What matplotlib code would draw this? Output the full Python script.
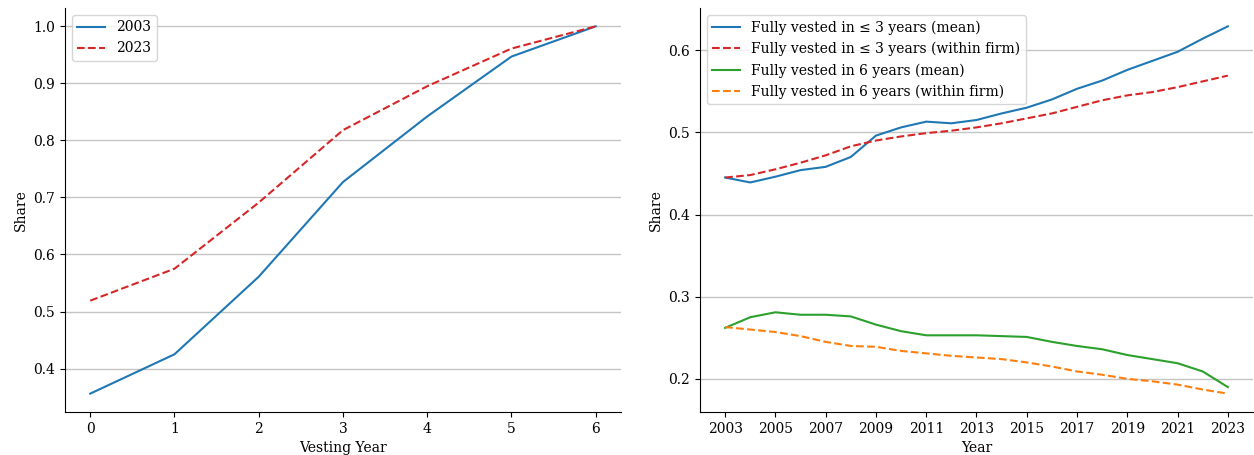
import numpy as np
import matplotlib
matplotlib.use("Agg")
import matplotlib.pyplot as plt

plt.rcParams['font.family'] = ['DejaVu Serif']
plt.rcParams['font.size'] = 10

# left panel: cumulative vesting share by vesting year
vest_year = [0, 1, 2, 3, 4, 5, 6]
share_2003 = [0.356, 0.425, 0.561, 0.727, 0.842, 0.947, 1.0]
share_2023 = [0.519, 0.575, 0.691, 0.818, 0.895, 0.961, 1.0]

# right panel: shares over time
years = list(range(2003, 2024))
le3_mean = [0.445, 0.439, 0.446, 0.454, 0.458, 0.470, 0.496, 0.506, 0.513, 0.511,
            0.515, 0.523, 0.530, 0.540, 0.553, 0.563, 0.576, 0.587, 0.598, 0.614, 0.629]
le3_firm = [0.445, 0.448, 0.455, 0.463, 0.472, 0.483, 0.490, 0.495, 0.499, 0.502,
            0.506, 0.511, 0.517, 0.523, 0.531, 0.539, 0.545, 0.549, 0.555, 0.562, 0.569]
six_mean = [0.262, 0.275, 0.281, 0.278, 0.278, 0.276, 0.266, 0.258, 0.253, 0.253,
            0.253, 0.252, 0.251, 0.245, 0.240, 0.236, 0.229, 0.224, 0.219, 0.209, 0.190]
six_firm = [0.263, 0.260, 0.257, 0.252, 0.245, 0.240, 0.239, 0.234, 0.231, 0.228,
            0.226, 0.224, 0.220, 0.215, 0.209, 0.205, 0.200, 0.197, 0.193, 0.187, 0.182]

fig = plt.figure(figsize=(12.54, 4.55), dpi=100)
ax1 = fig.add_axes([0.0518, 0.0945, 0.4434, 0.888])
ax2 = fig.add_axes([0.5582, 0.0945, 0.4410, 0.888])

ax1.plot(vest_year, share_2003, color='#1f77b4', lw=1.5, label='2003')
ax1.plot(vest_year, share_2023, color='#d62728', lw=1.5, ls='--', label='2023')
ax1.set_xlabel('Vesting Year')
ax1.set_ylabel('Share')
ax1.set_xticks(vest_year)
ax1.legend(loc='upper left')

ax2.plot(years, le3_mean, color='#1f77b4', lw=1.5, label='Fully vested in ≤ 3 years (mean)')
ax2.plot(years, le3_firm, color='#d62728', lw=1.5, ls='--', label='Fully vested in ≤ 3 years (within firm)')
ax2.plot(years, six_mean, color='#2ca02c', lw=1.5, label='Fully vested in 6 years (mean)')
ax2.plot(years, six_firm, color='#ff7f0e', lw=1.5, ls='--', label='Fully vested in 6 years (within firm)')
ax2.set_xlabel('Year')
ax2.set_ylabel('Share')
ax2.set_xticks(years[::2])
ax2.set_yticks([0.2, 0.3, 0.4, 0.5, 0.6])
ax2.legend(loc='upper left')

for ax in (ax1, ax2):
    ax.yaxis.grid(True, color='#c4c4c4', lw=1)
    ax.set_axisbelow(True)
    ax.spines['top'].set_visible(False)
    ax.spines['right'].set_visible(False)

fig.savefig('out.png', dpi=100)
